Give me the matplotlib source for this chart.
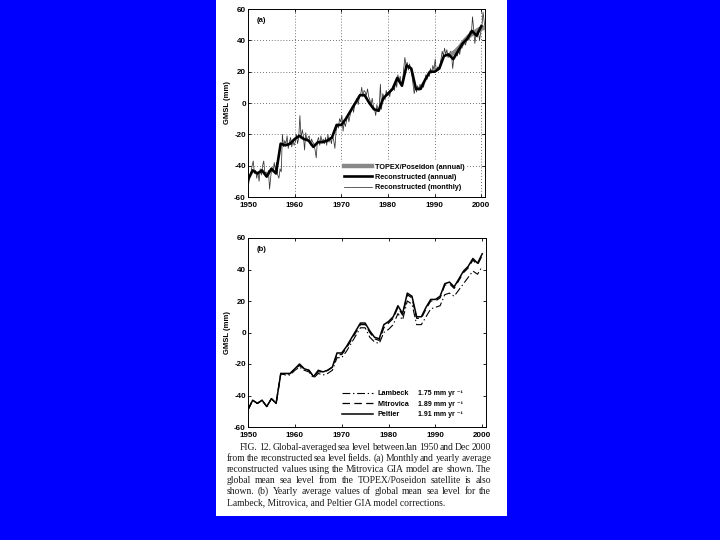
import matplotlib
matplotlib.use('Agg')
import matplotlib.pyplot as plt
from matplotlib.patches import Rectangle

# annual values (mm), 1950-2000
years = list(range(1950, 2001))
peltier = [-49, -43, -45, -43, -47, -42, -45, -26, -26, -26,
           -23, -20, -23, -24, -28, -24, -25, -24, -22, -13,
           -13, -9, -4, 1, 6, 6, 1, -3, -4, 5,
           7, 10, 17, 12, 25, 23, 10, 10, 16, 21,
           21, 23, 31, 32, 29, 34, 39, 42, 47, 44,
           50]
mitrovica = [-49, -43, -45, -43, -47, -42, -45, -26, -27, -26,
             -23, -21, -23, -24, -28, -25, -25, -24, -22, -14,
             -14, -10, -5, 0, 5, 5, 0, -4, -5, 3,
             6, 9, 16, 11, 24, 22, 9, 9, 15, 20,
             20, 22, 30, 31, 28, 33, 38, 41, 46, 43,
             49]
lambeck = [-49, -43, -45, -43, -47, -42, -45, -26, -27, -27,
           -24, -22, -24, -25, -29, -26, -27, -26, -24, -16,
           -16, -12, -7, -2, 3, 3, -3, -6, -7, 0,
           2, 5, 12, 8, 20, 18, 5, 5, 10, 15,
           16, 17, 24, 25, 23, 27, 31, 35, 39, 37,
           42]

# reconstructed (sub-annual, read four times per year)
monthly = [-52, -47, -45, -40,  -37, -45, -43, -48,  -44, -50, -42, -46,
           -40, -37, -45, -44,  -46, -43, -55, -47,  -41, -44, -38, -43,
           -38, -46, -48, -42,  -44, -20, -28, -24,  -26, -21, -29, -25,
           -22, -28, -24, -27,  -25, -20, -26, -22,  -8, -23, -17, -21,
           -30, -19, -24, -22,  -21, -27, -23, -25,  -26, -30, -35, -24,
           -22, -27, -21, -25,  -23, -26, -22, -27,  -20, -25, -22, -26,
           -21, -24, -29, -18,  -14, -16, -10, -12,  -8, -18, -12, -15,
           -11, -7, -12, -8,  -5, -2, -6, -1,  0, 3, -1, 4,
           5, 10, 4, 8,  7, 5, 9, 4,  2, -1, 3, -2,
           -4, -8, -1, -5,  -3, 12, -4, 6,  4, 2, 8, 5,
           7, 4, 9, 8,  11, 8, 14, 10,  18, 14, 17, 11,
           13, 22, 29, 24,  26, 21, 25, 22,  18, 12, 6, 10,
           7, 11, 8, 12,  9, 13, 10, 14,  18, 15, 19, 17,
           22, 19, 24, 21,  28, 20, 23, 22,  24, 28, 33, 30,
           35, 31, 34, 29,  30, 33, 31, 22,  29, 30, 32, 30,
           34, 31, 36, 35,  38, 41, 37, 40,  43, 40, 46, 44,
           55, 47, 38, 44,  42, 46, 40, 45,  48, 58, 52, 45]
monthly_t = [1950 + (i + 0.5) / 4 for i in range(len(monthly))]

topex_years = [1993.5, 1994.5, 1995.5, 1996.5, 1997.5, 1998.5, 1999.5, 2000.5]
topex = [31, 33, 36, 40, 43, 45, 47, 48]

rates = ['1.75 mm yr \u207b\u00b9', '1.89 mm yr \u207b\u00b9', '1.91 mm yr \u207b\u00b9']

caption = [
    'FIG. 12. Global-averaged sea level between Jan 1950 and Dec 2000',
    'from the reconstructed sea level fields. (a) Monthly and yearly average',
    'reconstructed values using the Mitrovica GIA model are shown. The',
    'global mean sea level from the TOPEX/Poseidon satellite is also',
    'shown. (b) Yearly average values of global mean sea level for the',
    'Lambeck, Mitrovica, and Peltier GIA model corrections.',
]

plt.rcParams['font.family'] = ['Liberation Sans', 'DejaVu Sans']
plt.rcParams['font.weight'] = 'bold'
plt.rcParams['axes.unicode_minus'] = False

fig = plt.figure(figsize=(7.2, 5.4), dpi=100, facecolor='#0000ff')
fig.patches.append(Rectangle((216 / 720, 1 - 516 / 540), (507 - 216) / 720, 516 / 540,
                             transform=fig.transFigure, facecolor='white',
                             edgecolor='none', zorder=-5))

ax1 = fig.add_axes([248 / 720, 1 - 197 / 540, (485 - 248) / 720, (197 - 9) / 540])
ax2 = fig.add_axes([248 / 720, 1 - 427 / 540, (486 - 248) / 720, (427 - 238) / 540])


def style_axes(ax):
    ax.set_xlim(1950, 2000.8)
    ax.set_ylim(-60, 60)
    ax.set_xticks(range(1950, 2001, 10))
    ax.set_yticks(range(-60, 61, 20))
    ax.tick_params(direction='in', length=2, width=0.6, labelsize=5.8,
                   top=True, right=True, pad=1.5)
    ax.tick_params(axis='x', pad=3.5)
    for s in ax.spines.values():
        s.set_linewidth(0.7)
    ax.set_ylabel('GMSL (mm)', fontsize=5.5, fontweight='bold', labelpad=2)


# panel (a)
style_axes(ax1)
ax1.grid(True, linestyle=(0, (1, 2.5)), color='#444444', linewidth=0.6)
ax1.plot(topex_years, topex, color='#888888', linewidth=3.2,
         label='TOPEX/Poseidon (annual)', zorder=3)
ax1.plot(years, mitrovica, color='black', linewidth=1.9,
         label='Reconstructed (annual)', zorder=4)
ax1.plot(monthly_t, monthly, color='#333333', linewidth=0.55,
         label='Reconstructed (monthly)', zorder=2)
ax1.text(0.035, 0.94, '(a)', transform=ax1.transAxes, fontsize=5.5,
         fontweight='bold', va='center')
leg1 = ax1.legend(loc='lower right', bbox_to_anchor=(0.94, 0.0), fontsize=5.2,
                  frameon=True, framealpha=1, edgecolor='none', handlelength=4.0,
                  handletextpad=0.4, labelspacing=0.45, borderpad=0.3)
leg1.set_zorder(5)

# panel (b)
style_axes(ax2)
ax2.plot(years, lambeck, color='black', linewidth=0.8,
         linestyle=(0, (7, 2.5, 1.2, 2.5)), label='Lambeck')
ax2.plot(years, mitrovica, color='black', linewidth=0.9,
         linestyle=(0, (6, 3.5)), label='Mitrovica')
ax2.plot(years, peltier, color='black', linewidth=1.1, label='Peltier')
ax2.text(0.035, 0.94, '(b)', transform=ax2.transAxes, fontsize=5.5,
         fontweight='bold', va='center')
leg2 = ax2.legend(loc='lower left', bbox_to_anchor=(0.37, 0.015), fontsize=5.2,
                  frameon=False, handlelength=4.3, handletextpad=0.6,
                  labelspacing=0.5, borderpad=0.3)

fig.canvas.draw()
renderer = fig.canvas.get_renderer()

# rate column, aligned with the legend rows
for txt, rate in zip(leg2.get_texts(), rates):
    bb = txt.get_window_extent(renderer)
    yc = (bb.y0 + bb.y1) / 2 / 540
    fig.text(418 / 720, yc, rate, fontsize=5.0, fontweight='bold', va='center')

# caption, justified word by word
for i, line in enumerate(caption):
    y = 1 - (447 + i * 11.1) / 540
    x0 = 240 if i == 0 else 227
    x1 = 491
    if i == len(caption) - 1:
        fig.text(x0 / 720, y, line, fontsize=6.9, family='Liberation Serif',
                 fontweight='normal', va='center', color='#1a1a1a')
        continue
    words = line.split()
    texts = [fig.text(0, y, w, fontsize=6.9, family='Liberation Serif',
                      fontweight='normal', va='center', color='#1a1a1a')
             for w in words]
    widths = [t.get_window_extent(renderer).width for t in texts]
    gap = (x1 - x0 - sum(widths)) / (len(words) - 1)
    x = x0
    for t, w in zip(texts, widths):
        t.set_x(x / 720)
        x += w + gap

fig.savefig('out.png', dpi=100, facecolor=fig.get_facecolor())
